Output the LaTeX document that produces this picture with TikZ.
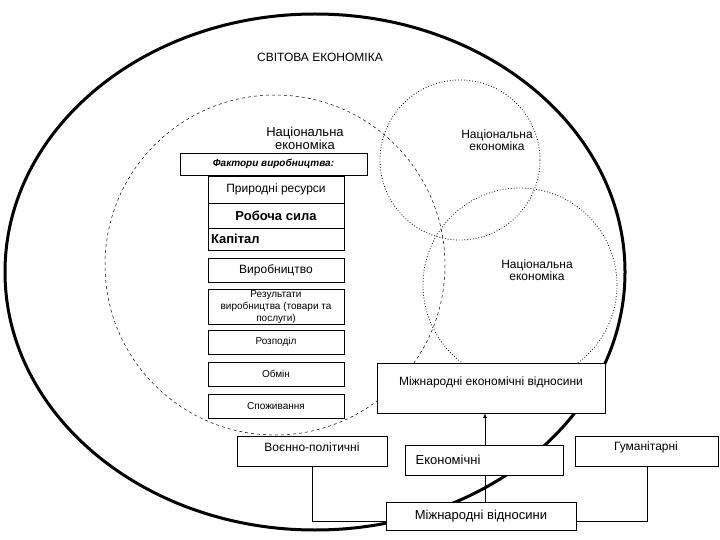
\documentclass[tikz,border=0pt]{standalone}
\usepackage{fontspec}
\setmainfont{Liberation Sans}
\usepackage{tikz}
\newcommand{\fbig}{\fontsize{13}{13}\selectfont}
\newcommand{\fmid}{\fontsize{12}{12}\selectfont}
\newcommand{\fsml}{\fontsize{10}{10.5}\selectfont}
\tikzstyle{none}=[inner sep=0pt]
\tikzstyle{box}=[draw=black,fill=white,line width=0.7,inner sep=1pt]
\tikzstyle{line}=[draw=black,line width=0.7]
\tikzstyle{arrow}=[-latex,draw=black,line width=0.7]

\begin{document}
\begin{tikzpicture}[x=1pt,y=-1pt]
 \useasboundingbox (0,0) rectangle (720,540);
 \draw [line width=3] (315,272) ellipse [x radius=310, y radius=258];
 \draw [dashed,line width=0.5] (275,265) circle (170);
 \draw [dotted,line width=0.8] (460,160) circle (80);
 \draw [dotted,line width=0.8] (520,285) circle (97);
 \node [style=none] (world) at (320,57) {\fmid СВІТОВА ЕКОНОМІКА};
 \node [style=none,align=center] (ne1) at (305,138) {\fbig Національна\\\fbig економіка};
 \node [style=none,align=center] (ne2) at (497,140) {\fmid Національна\\\fmid економіка};
 \node [style=none,align=center] (ne3) at (537,270) {\fmid Національна\\\fmid економіка};
 \node [style=box,minimum width=187,minimum height=22] (factors) at (273.5,164) {\fsml\bfseries\itshape Фактори виробництва:};
 \node [style=box,minimum width=136,minimum height=27] (nature) at (276,189.5) {\fmid Природні ресурси};
 \node [style=box,minimum width=136,minimum height=25] (labour) at (276,215.5) {\fbig\bfseries Робоча сила};
 \node [style=box,minimum width=136,minimum height=22,text width=130,align=left] (capital) at (276,239) {\fbig\bfseries Капітал};
 \node [style=box,minimum width=136,minimum height=24] (prod) at (276,270) {\fmid Виробництво};
 \node [style=box,minimum width=136,minimum height=30,align=center] (result) at (276,307) {\fsml Результати\\\fsml виробництва (товари та\\\fsml послуги)};
 \node [style=box,minimum width=136,minimum height=24] (distr) at (276,342) {\fsml Розподіл};
 \node [style=box,minimum width=136,minimum height=24] (exch) at (276,374) {\fsml Обмін};
 \node [style=box,minimum width=136,minimum height=24] (cons) at (276,406) {\fsml Споживання};
 \node [style=box,minimum width=228,minimum height=50,anchor=north west] (ier) at (377,363) {};
 \node [style=none] (iertext) at (491,382) {\fmid Міжнародні економічні відносини};
 \node [style=box,minimum width=150,minimum height=30,anchor=north west] (mil) at (237,436) {};
 \node [style=none] (miltext) at (312,447) {\fmid Воєнно-політичні};
 \node [style=box,minimum width=158,minimum height=30,anchor=north west] (econ) at (405,445) {};
 \node [style=none] (econtext) at (448,460) {\fbig Економічні};
 \node [style=box,minimum width=143,minimum height=30,anchor=north west] (hum) at (575,436) {};
 \node [style=none] (humtext) at (646,447) {\fmid Гуманітарні};
 \node [style=box,minimum width=190,minimum height=28] (ir) at (481,516) {\fbig Міжнародні відносини};
 \coordinate (c1) at (312,521);
 \coordinate (c2) at (643,521);
 \coordinate (up) at (485,413);
 \draw [style=arrow] (econ.north -| up) to (up);
 \draw [style=line] (ir.north -| up) to (econ.south -| up);
 \draw [style=line] (mil.south) |- (ir.west |- c1);
 \draw [style=line] (hum.south) |- (ir.east |- c2);
\end{tikzpicture}
\end{document}
